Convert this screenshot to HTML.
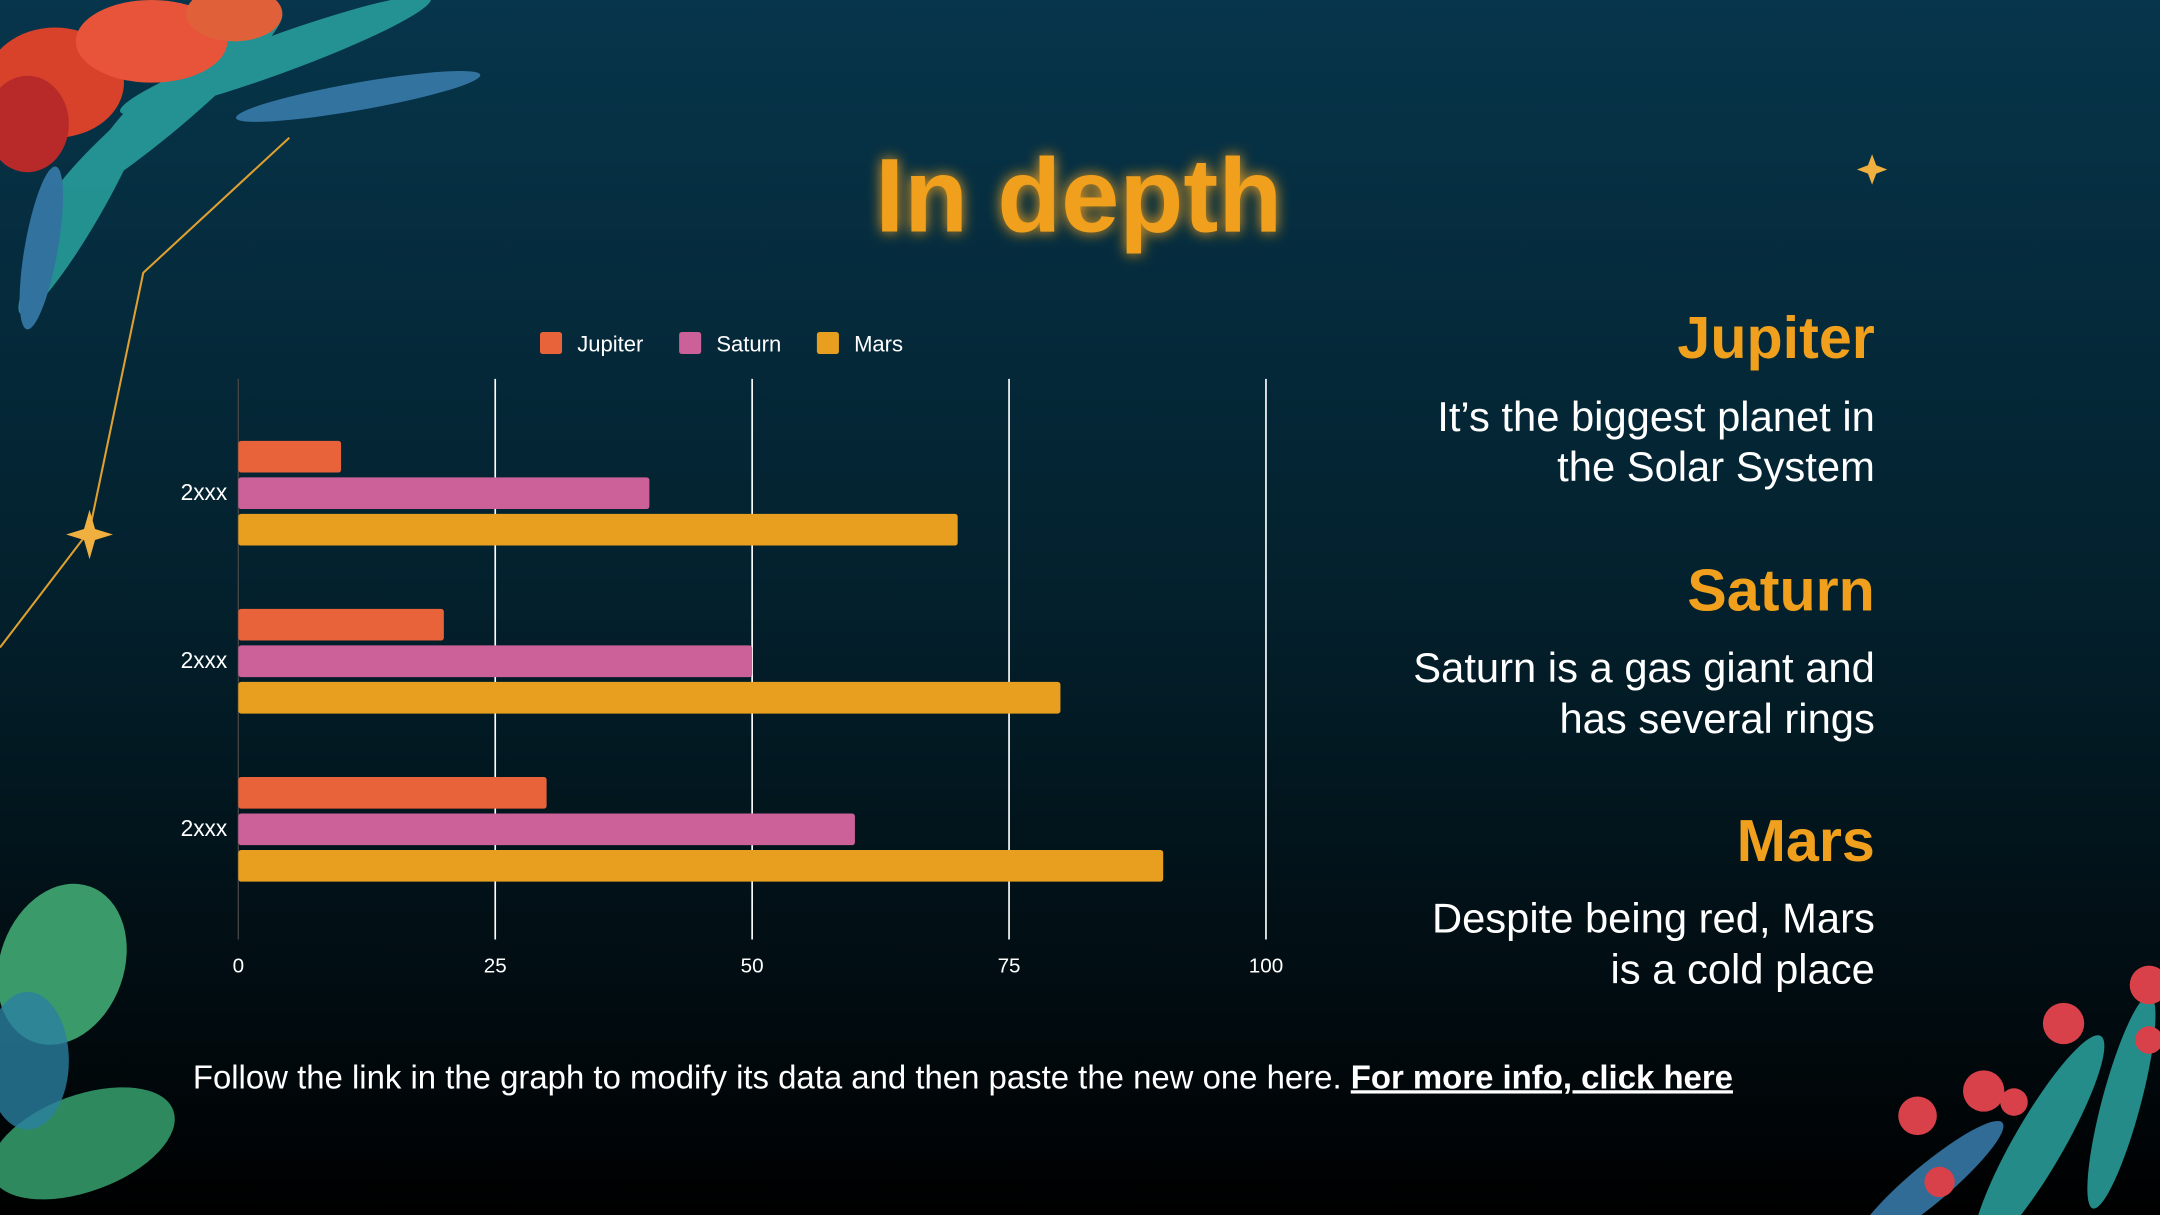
<!DOCTYPE html>
<html><head><meta charset="utf-8"><style>
html,body{margin:0;padding:0;background:#000}
svg{display:block}
text{font-family:"Liberation Sans",Arial,sans-serif}
</style></head><body>
<svg id="s" width="2160" height="1215" viewBox="0 0 1568 882" xmlns="http://www.w3.org/2000/svg">
<defs>
<linearGradient id="bg" x1="0" y1="0" x2="0" y2="1">
<stop offset="0" stop-color="#07354b"/><stop offset="0.5" stop-color="#03202c"/><stop offset="0.85" stop-color="#010a0e"/><stop offset="1" stop-color="#000"/>
</linearGradient>
<filter id="glow" x="-20%" y="-50%" width="140%" height="200%"><feGaussianBlur stdDeviation="5" result="b"/><feMerge><feMergeNode in="b"/><feMergeNode in="SourceGraphic"/></feMerge></filter>
</defs>
<rect width="1568" height="882" fill="url(#bg)"/>
<g>
<polyline points="210,100 104,198 65,385 0,470" fill="none" stroke="#e0a030" stroke-width="1.5"/>
<g fill="#2aa3a0" opacity="0.85">
<ellipse cx="120" cy="80" rx="110" ry="16" transform="rotate(-40 120 80)"/>
<ellipse cx="200" cy="40" rx="120" ry="14" transform="rotate(-20 200 40)"/>
<ellipse cx="60" cy="150" rx="90" ry="14" transform="rotate(-60 60 150)"/>
<ellipse cx="260" cy="70" rx="90" ry="10" transform="rotate(-10 260 70)" fill="#3a7fb0"/>
<ellipse cx="30" cy="180" rx="60" ry="12" transform="rotate(-80 30 180)" fill="#3a7fb0"/>
</g>
<g fill="#d8412a">
<ellipse cx="40" cy="60" rx="50" ry="40"/><ellipse cx="110" cy="30" rx="55" ry="30" fill="#e8543a"/>
<ellipse cx="20" cy="90" rx="30" ry="35" fill="#b82a2a"/><ellipse cx="170" cy="10" rx="35" ry="20" fill="#e0603a"/>
</g>
</g>
<g>
<ellipse cx="45" cy="700" rx="45" ry="60" fill="#3a9a6a" transform="rotate(20 45 700)"/>
<ellipse cx="60" cy="830" rx="70" ry="35" fill="#2e8a5e" transform="rotate(-20 60 830)"/>
<ellipse cx="20" cy="770" rx="30" ry="50" fill="#2a7fa0" opacity="0.8"/>
</g>
<g>
<ellipse cx="1480" cy="830" rx="90" ry="18" fill="#2aa3a0" transform="rotate(-60 1480 830)" opacity="0.85"/>
<ellipse cx="1400" cy="860" rx="70" ry="14" fill="#3a7fb0" transform="rotate(-40 1400 860)" opacity="0.85"/>
<ellipse cx="1540" cy="800" rx="80" ry="14" fill="#2aa3a0" transform="rotate(-75 1540 800)" opacity="0.85"/>
<g fill="#d8404a"><circle cx="1498" cy="743" r="15"/><circle cx="1560" cy="715" r="14"/><circle cx="1440" cy="792" r="15"/><circle cx="1392" cy="810" r="14"/><circle cx="1408" cy="858" r="11"/><circle cx="1462" cy="800" r="10"/><circle cx="1560" cy="755" r="10"/></g>
</g>
<g fill="#f0b040">
<path d="M65,370 L69,384 L82,388 L69,392 L65,406 L61,392 L48,388 L61,384Z"/>
<path d="M1359,112 L1362,120 L1370,123 L1362,126 L1359,134 L1356,126 L1348,123 L1356,120Z"/>
</g>
<text x="783" y="168" text-anchor="middle" font-size="76" font-weight="bold" fill="#f0a01c" filter="url(#glow)">In depth</text>

<g id="chart"></g>

<g font-size="43" font-weight="bold" fill="#f0a01c" text-anchor="end">
<text x="1361" y="260">Jupiter</text>
<text x="1361" y="443">Saturn</text>
<text x="1361" y="625">Mars</text>
</g>
<g font-size="30.3" fill="#ffffff" text-anchor="end">
<text x="1361" y="313">It’s the biggest planet in</text>
<text x="1361" y="349">the Solar System</text>
<text x="1361" y="495">Saturn is a gas giant and</text>
<text x="1361" y="532">has several rings</text>
<text x="1361" y="677">Despite being red, Mars</text>
<text x="1361" y="714">is a cold place</text>
</g>
<text x="140" y="790" font-size="23.9" fill="#ffffff">Follow the link in the graph to modify its data and then paste the new one here. <tspan font-weight="bold" text-decoration="underline">For more info, click here</tspan></text>
</svg>
<script>
const categories = ["2xxx","2xxx","2xxx"];
const seriesNames = ["Jupiter","Saturn","Mars"];
const jupiter = [10,20,30];
const saturn = [40,50,60];
const mars = [70,80,90];
const ticks = [0,25,50,75,100];
const colors = ["#e8633a","#cc6199","#e89e1e"];
const series=[jupiter,saturn,mars];
const NS="http://www.w3.org/2000/svg";
const g=document.getElementById('chart');
const x0=173,x1=919,yTop=275,yBottom=682,bandTop=297,bandBottom=663;
const xs=v=>x0+(v-0)/(100-0)*(x1-x0);
const groupH=(bandBottom-bandTop)/categories.length;
const bandCenter=i=>bandTop+groupH*(i+0.5);
function mk(t,a){const e=document.createElementNS(NS,t);for(const k in a)e.setAttribute(k,a[k]);g.appendChild(e);return e;}
ticks.forEach((t,i)=>{
  if(i>0){const l=mk('line',{x1:xs(t),x2:xs(t),y1:yTop,y2:yBottom,stroke:'#ffffff','stroke-width':1.2});
  
  }
  const tx=mk('text',{x:xs(t),y:706,'text-anchor':'middle','font-size':15,fill:'#ffffff'});tx.textContent=t;
  
  
});
const ax=mk('line',{x1:x0,x2:x0,y1:yTop,y2:yBottom,stroke:'#444','stroke-width':1});


const bh=23,step=26.5;
categories.forEach((c,i)=>{
  const cy=bandCenter(i);
  const lb=mk('text',{x:165,y:cy+5,'text-anchor':'end','font-size':16.5,fill:'#ffffff'});lb.textContent=c;
  
  
  series.forEach((s,j)=>{
    const yc=cy+(j-1)*step;
    const r=mk('rect',{x:x0,y:yc-bh/2,width:xs(s[i])-x0,height:bh,rx:2,fill:colors[j]});
    
    
  });
});
const lx=[392,493,593];
seriesNames.forEach((n,j)=>{
  const r=mk('rect',{x:lx[j],y:241,width:16,height:16,rx:2,fill:colors[j]});
  
  
  const t=mk('text',{x:lx[j]+27,y:255,'font-size':16,fill:'#ffffff'});t.textContent=n;
  
  
});
</script>
</body></html>
